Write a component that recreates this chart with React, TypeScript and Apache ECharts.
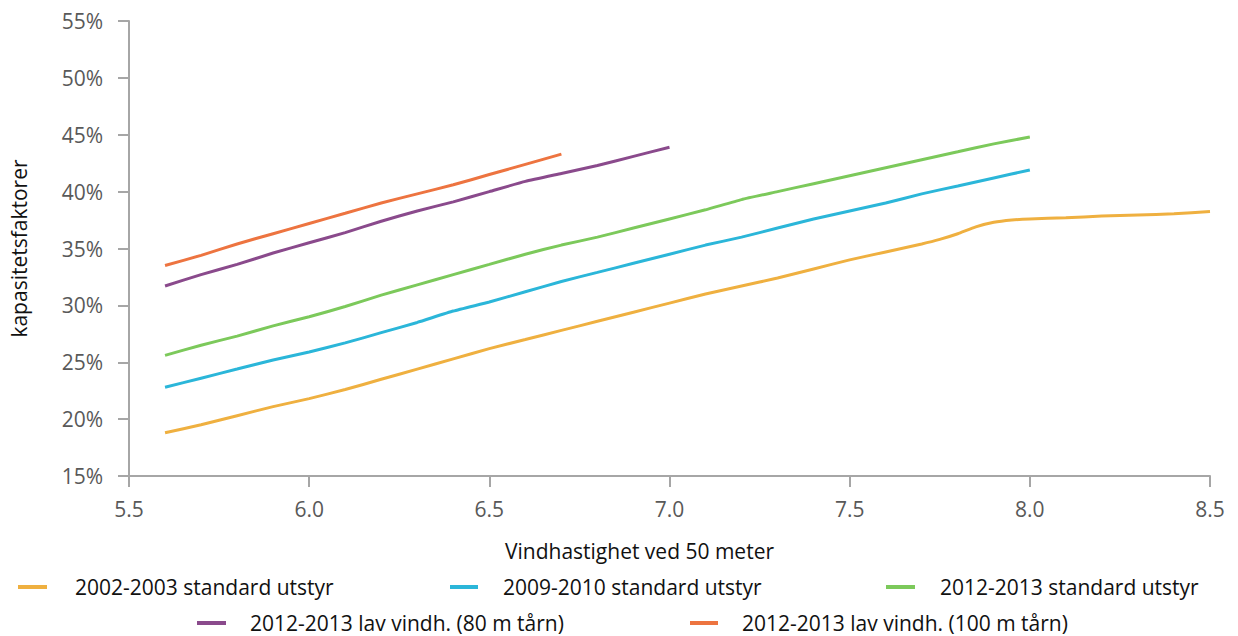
import React, { useEffect, useRef } from "react";
import * as echarts from "echarts";

const seriesNames = [
  "2002-2003 standard utstyr",
  "2009-2010 standard utstyr",
  "2012-2013 standard utstyr",
  "2012-2013 lav vindh. (80 m tårn)",
  "2012-2013 lav vindh. (100 m tårn)",
];
const seriesColors = ["#EFB040", "#2BB6D9", "#7CC95B", "#8A4A8C", "#ED7440"];

const windA = [5.6, 5.7, 5.8, 5.9, 6.0, 6.1, 6.2, 6.3, 6.4, 6.5, 6.6, 6.7, 6.8, 6.9, 7.0, 7.1, 7.2, 7.3, 7.4, 7.5, 7.6, 7.7, 7.75, 7.8, 7.85, 7.9, 7.95, 8.0, 8.1, 8.2, 8.3, 8.4, 8.5];
const cf2002 = [18.8, 19.5, 20.3, 21.1, 21.8, 22.6, 23.5, 24.4, 25.3, 26.2, 27.0, 27.8, 28.6, 29.4, 30.2, 31.0, 31.7, 32.4, 33.2, 34.0, 34.7, 35.4, 35.8, 36.3, 36.9, 37.3, 37.5, 37.6, 37.7, 37.85, 37.95, 38.05, 38.25];

const windB = [5.6, 5.7, 5.8, 5.9, 6.0, 6.1, 6.2, 6.3, 6.4, 6.5, 6.6, 6.7, 6.8, 6.9, 7.0, 7.1, 7.2, 7.3, 7.4, 7.5, 7.6, 7.7, 7.8, 7.9, 8.0];
const cf2009 = [22.8, 23.6, 24.4, 25.2, 25.9, 26.7, 27.6, 28.5, 29.5, 30.3, 31.2, 32.1, 32.9, 33.7, 34.5, 35.3, 36.0, 36.8, 37.6, 38.3, 39.0, 39.8, 40.5, 41.2, 41.9];
const cf2012 = [25.6, 26.5, 27.3, 28.2, 29.0, 29.9, 30.9, 31.8, 32.7, 33.6, 34.5, 35.3, 36.0, 36.8, 37.6, 38.4, 39.3, 40.0, 40.7, 41.4, 42.1, 42.8, 43.5, 44.2, 44.8];

const windC = [5.6, 5.7, 5.8, 5.9, 6.0, 6.1, 6.2, 6.3, 6.4, 6.5, 6.6, 6.7, 6.8, 6.9, 7.0];
const cf80 = [31.7, 32.7, 33.6, 34.6, 35.5, 36.4, 37.4, 38.3, 39.1, 40.0, 40.9, 41.6, 42.3, 43.1, 43.9];

const windD = [5.6, 5.7, 5.8, 5.9, 6.0, 6.1, 6.2, 6.3, 6.4, 6.5, 6.6, 6.7];
const cf100 = [33.5, 34.4, 35.4, 36.3, 37.2, 38.1, 39.0, 39.8, 40.6, 41.5, 42.4, 43.3];

const xTicks = { min: 5.5, max: 8.5, interval: 0.5 };
const yTicks = { min: 15, max: 55, interval: 5 };

const xName = "Vindhastighet ved 50 meter";
const yName = "kapasitetsfaktorer";

const pairs = (xs: number[], ys: number[]) => xs.map((x, i) => [x, ys[i]]);

export default function App() {
  const ref = useRef<HTMLDivElement>(null);
  useEffect(() => {
    document.body.style.margin = "0";
    const chart = echarts.init(ref.current!, null, { renderer: "svg" });
    const font = "'Open Sans', sans-serif";
    const data = [
      pairs(windA, cf2002),
      pairs(windB, cf2009),
      pairs(windB, cf2012),
      pairs(windC, cf80),
      pairs(windD, cf100),
    ];
    const legendPos = [
      { x1: 18, x2: 47, tx: 75, y: 587 },
      { x1: 450, x2: 478, tx: 503, y: 587 },
      { x1: 886, x2: 915, tx: 940, y: 587 },
      { x1: 197, x2: 226, tx: 250, y: 623 },
      { x1: 690, x2: 718, tx: 742, y: 623 },
    ];
    const legendGraphics: any[] = [];
    seriesNames.forEach((n, i) => {
      const p = legendPos[i];
      legendGraphics.push({
        type: "line",
        shape: { x1: p.x1, y1: p.y, x2: p.x2, y2: p.y },
        style: { stroke: seriesColors[i], lineWidth: 4 },
      });
      legendGraphics.push({
        type: "text",
        x: p.tx,
        y: p.y,
        style: {
          text: n,
          fill: "#111111",
          font: `21px ${font}`,
          lineHeight: 22,
          verticalAlign: "middle",
          align: "left",
        },
      });
    });
    chart.setOption({
      animation: false,
      backgroundColor: "#ffffff",
      grid: { left: 123, right: 28, top: 21, bottom: 160 },
      xAxis: {
        type: "value",
        min: xTicks.min,
        max: xTicks.max,
        interval: xTicks.interval,
        name: xName,
        nameLocation: "middle",
        nameGap: 64,
        nameTextStyle: { fontFamily: font, fontSize: 21, color: "#111111", padding: [0, 60, 0, 0] },
        axisLine: { show: true, lineStyle: { color: "#A6A6A6", width: 2 } },
        axisTick: { show: true, length: 11, lineStyle: { color: "#A6A6A6", width: 2 } },
        axisLabel: {
          margin: 22,
          fontFamily: font,
          fontSize: 21,
          color: "#595959",
          formatter: (v: number) => v.toFixed(1),
        },
        splitLine: { show: false },
      },
      yAxis: {
        type: "value",
        min: yTicks.min,
        max: yTicks.max,
        interval: yTicks.interval,
        name: yName,
        nameLocation: "middle",
        nameGap: 100,
        nameRotate: 90,
        nameTextStyle: { fontFamily: font, fontSize: 21, color: "#111111" },
        axisLine: { show: true, lineStyle: { color: "#A6A6A6", width: 2 } },
        axisTick: { show: true, length: 11, lineStyle: { color: "#A6A6A6", width: 2 } },
        axisLabel: {
          margin: 26,
          fontFamily: font,
          fontSize: 21,
          color: "#595959",
          formatter: (v: number) => `${v}%`,
        },
        splitLine: { show: false },
      },
      series: seriesNames.map((n, i) => ({
        name: n,
        type: "line",
        data: data[i],
        showSymbol: false,
        symbol: "none",
        smooth: 0.15,
        lineStyle: { color: seriesColors[i], width: 3 },
        itemStyle: { color: seriesColors[i] },
      })),
      graphic: legendGraphics,
    });
    return () => chart.dispose();
  }, []);
  return <div ref={ref} style={{ width: 1238, height: 636 }} />;
}
